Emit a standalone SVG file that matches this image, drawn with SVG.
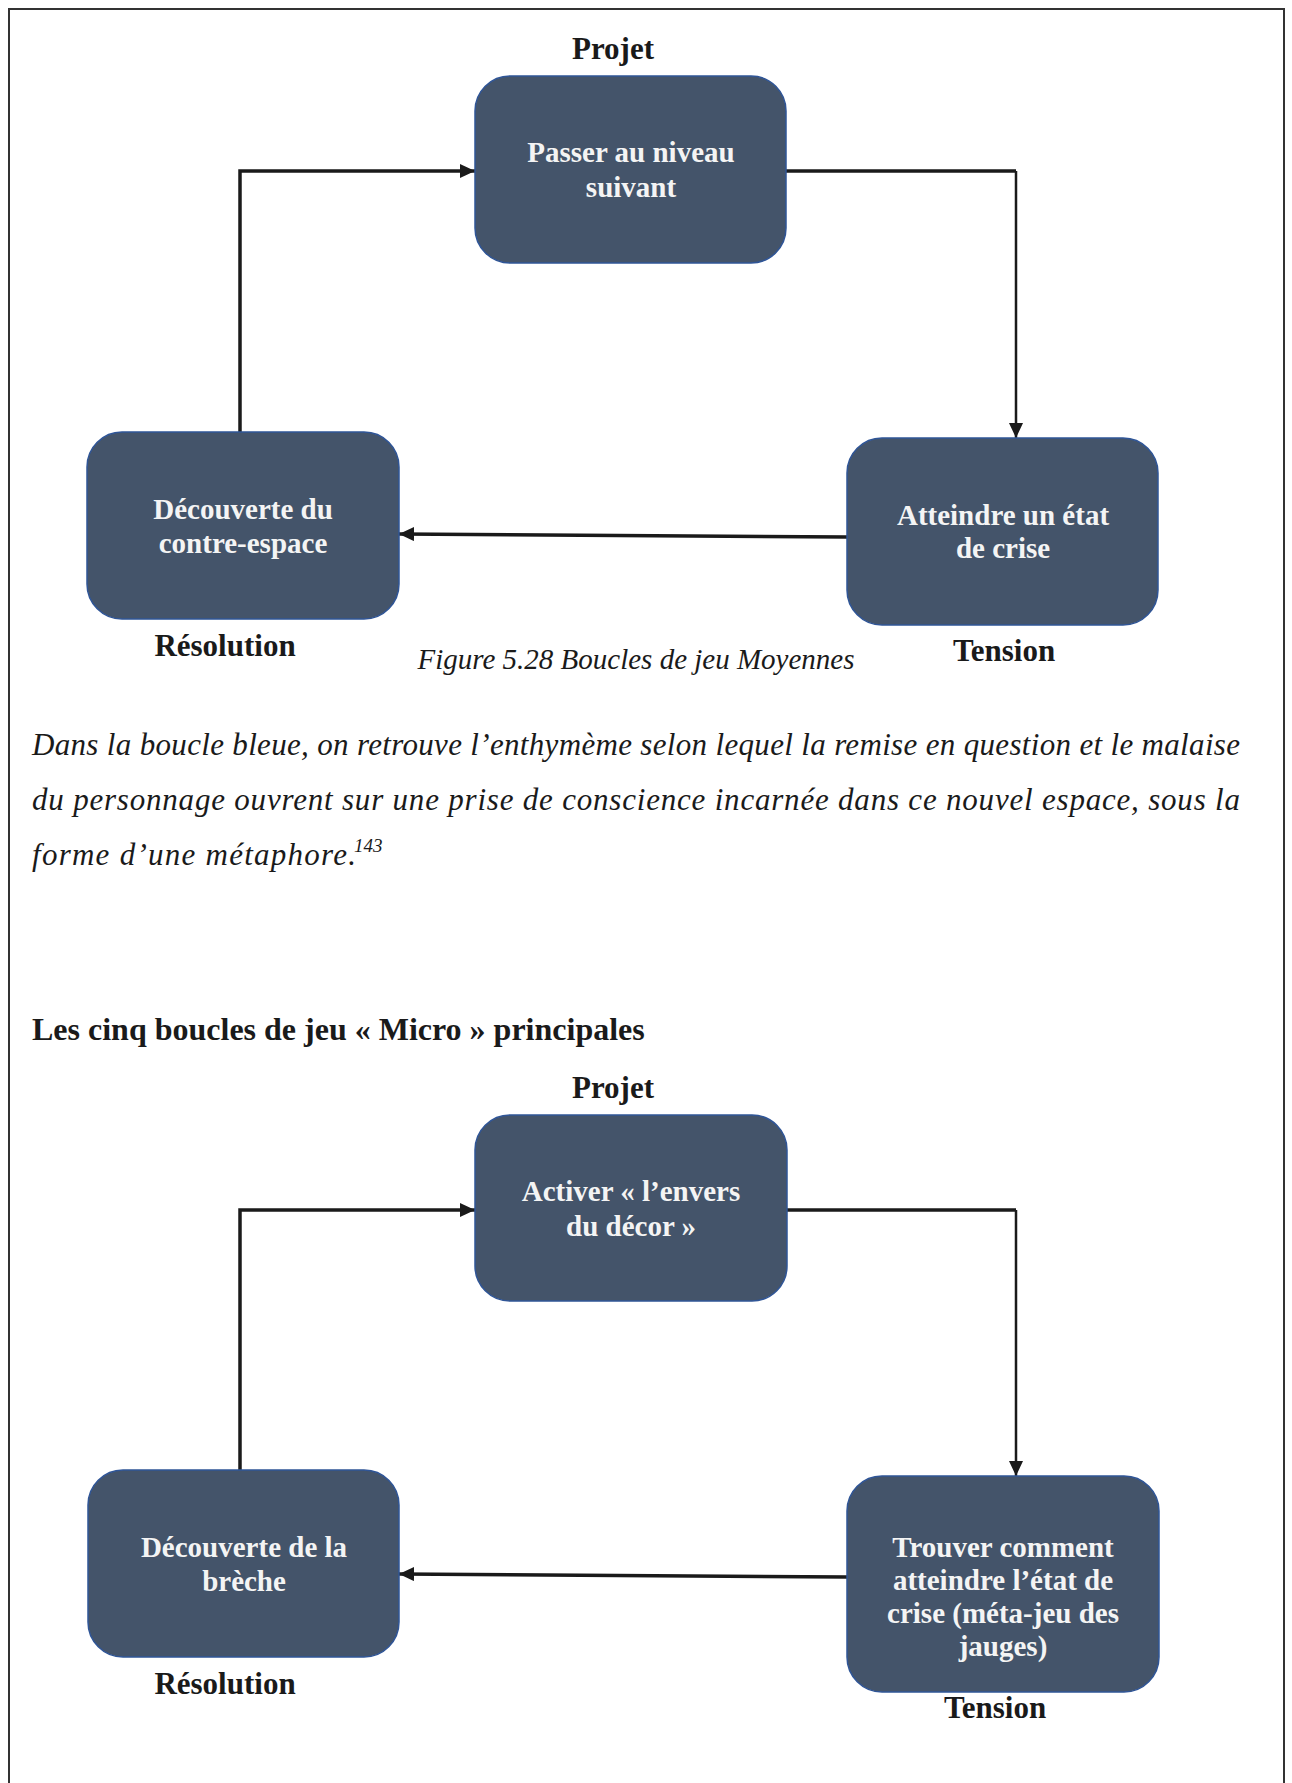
<svg xmlns="http://www.w3.org/2000/svg" width="1292" height="1783" viewBox="0 0 1292 1783">
<style>
.node rect{fill:#44546A;stroke:#2F5597;stroke-width:1.5}
.nt{font-family:"Liberation Serif","Times New Roman",serif;font-weight:bold;font-size:29px;fill:#F4F4F4;text-anchor:middle}
.lbl{font-family:"Liberation Serif","Times New Roman",serif;font-weight:bold;font-size:31px;fill:#1a1a1a;text-anchor:middle}
.it{font-family:"Liberation Serif","Times New Roman",serif;font-style:italic;font-size:29px;fill:#1a1a1a}
.para{font-size:31px}
.sup{font-size:19px}
.hd{font-family:"Liberation Serif","Times New Roman",serif;font-weight:bold;font-size:32px;fill:#1a1a1a}
.conn{fill:none;stroke:#1a1a1a;stroke-width:3.5}
.thin{stroke-width:2.5}
</style>
<defs>
<marker id="arr" markerUnits="userSpaceOnUse" markerWidth="15" markerHeight="14" refX="15" refY="7" orient="auto">
<path d="M0,0 L15,7 L0,14 z" fill="#1a1a1a"/>
</marker>
</defs>
<rect width="1292" height="1783" fill="#ffffff"/>
<path d="M9,1783 L9,9 L1284,9 L1284,1783" fill="none" stroke="#333333" stroke-width="2"/>

<g id="connectors">
<polyline class="conn" points="240,432 240,171 475,171" marker-end="url(#arr)"/>
<polyline class="conn" points="786,171 1016,171" />
<polyline class="conn thin" points="1016,171 1016,438" marker-end="url(#arr)"/>
<line class="conn" x1="847" y1="537" x2="399" y2="534" marker-end="url(#arr)"/>
<polyline class="conn" points="240,1470 240,1210 475,1210" marker-end="url(#arr)"/>
<polyline class="conn" points="787,1210 1016,1210"/>
<polyline class="conn thin" points="1016,1210 1016,1476" marker-end="url(#arr)"/>
<line class="conn" x1="847" y1="1577" x2="399" y2="1574" marker-end="url(#arr)"/>
</g>

<g id="label-projet-1"><text class="lbl" x="613" y="59">Projet</text></g>
<g id="node-passer" class="node">
<rect x="475" y="76" width="311" height="187" rx="35" ry="35"/>
<text class="nt" x="631" y="162">Passer au niveau</text>
<text class="nt" x="631" y="197">suivant</text>
</g>
<g id="node-decouverte-contre" class="node">
<rect x="87" y="432" width="312" height="187" rx="35" ry="35"/>
<text class="nt" x="243" y="519">Découverte du</text>
<text class="nt" x="243" y="553">contre-espace</text>
</g>
<g id="node-atteindre" class="node">
<rect x="847" y="438" width="311" height="187" rx="35" ry="35"/>
<text class="nt" x="1003" y="525">Atteindre un état</text>
<text class="nt" x="1003" y="558">de crise</text>
</g>
<g id="label-resolution-1"><text class="lbl" x="225" y="656">Résolution</text></g>
<g id="label-tension-1"><text class="lbl" x="1004" y="661">Tension</text></g>

<text class="it" x="636" y="669" text-anchor="middle">Figure 5.28 Boucles de jeu Moyennes</text>

<text class="it para" x="32" y="755" textLength="1208" lengthAdjust="spacing">Dans la boucle bleue, on retrouve l’enthymème selon lequel la remise en question et le malaise</text>
<text class="it para" x="32" y="810" textLength="1208" lengthAdjust="spacing">du personnage ouvrent sur une prise de conscience incarnée dans ce nouvel espace, sous la</text>
<text class="it para" x="32" y="865" textLength="324" lengthAdjust="spacing">forme d’une métaphore.</text>
<text class="it sup" x="354" y="852">143</text>

<text class="hd" x="32" y="1040">Les cinq boucles de jeu « Micro » principales</text>

<g id="label-projet-2"><text class="lbl" x="613" y="1098">Projet</text></g>
<g id="node-activer" class="node">
<rect x="475" y="1115" width="312" height="186" rx="35" ry="35"/>
<text class="nt" x="631" y="1201">Activer « l’envers</text>
<text class="nt" x="631" y="1236">du décor »</text>
</g>
<g id="node-decouverte-breche" class="node">
<rect x="88" y="1470" width="311" height="187" rx="35" ry="35"/>
<text class="nt" x="244" y="1557">Découverte de la</text>
<text class="nt" x="244" y="1591">brèche</text>
</g>
<g id="node-trouver" class="node">
<rect x="847" y="1476" width="312" height="216" rx="35" ry="35"/>
<text class="nt" x="1003" y="1557">Trouver comment</text>
<text class="nt" x="1003" y="1590">atteindre l’état de</text>
<text class="nt" x="1003" y="1623">crise (méta-jeu des</text>
<text class="nt" x="1003" y="1656">jauges)</text>
</g>
<g id="label-resolution-2"><text class="lbl" x="225" y="1694">Résolution</text></g>
<g id="label-tension-2"><text class="lbl" x="995" y="1718">Tension</text></g>
</svg>
